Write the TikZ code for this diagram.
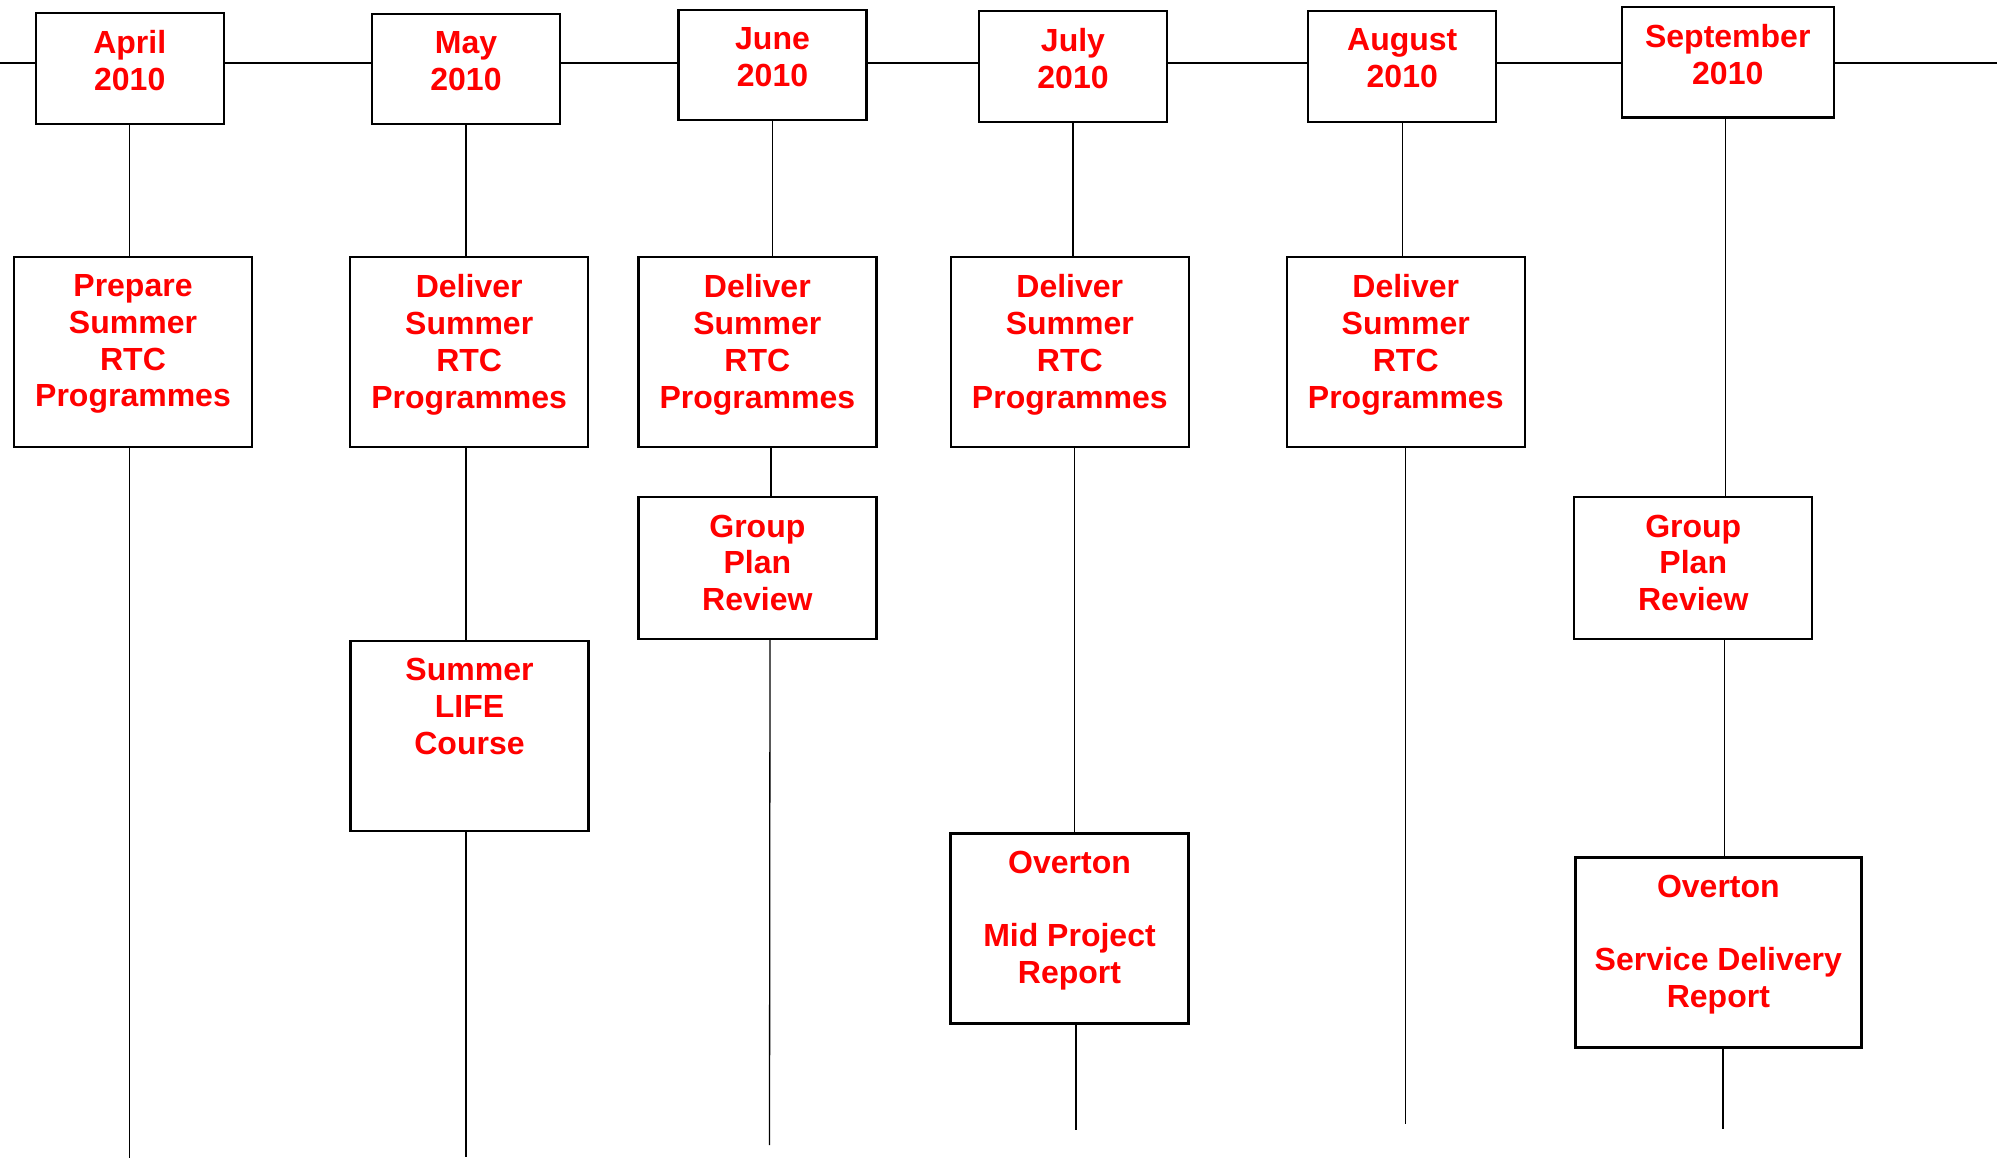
\documentclass[tikz,border=0pt]{standalone}
\usepackage{fontspec}
\setmainfont{Liberation Sans}
\newcommand{\firststrut}{\rule{0pt}{30pt}}
\begin{document}
\begin{tikzpicture}[x=1pt,y=-1pt,
  box/.style={draw=black, line width=2.3pt, fill=white, inner sep=0pt, minimum width=#1},
  mbox/.style={box=188pt, minimum height=110.5pt},
  abox/.style={box=238pt, minimum height=190pt},
  gbox/.style={box=238pt, minimum height=141.5pt},
  txt/.style={anchor=north, yshift=-18.5pt, align=center, text={rgb,255:red,255;green,0;blue,0}, inner sep=0pt,
    font=\bfseries\fontsize{32}{36.7}\selectfont, execute at begin node={\firststrut}},
  tl/.style={line width=2.6pt},
  vl/.style={line width=1.3pt}]
\useasboundingbox (0,0) rectangle (2004,1158);
\coordinate (L) at (0,63);
\coordinate (R) at (1997,63);
\draw[tl] (L) -- (R);
% month boxes
\node[mbox, label={[txt]north:{April\\2010}}] (mApr) at (129.75,68.5) {};
\node[mbox, label={[txt]north:{May\\2010}}] (mMay) at (466,69) {};
\node[mbox, label={[txt]north:{June\\2010}}] (mJun) at (772.5,65) {};
\node[mbox, label={[txt]north:{July\\2010}}] (mJul) at (1073,66.5) {};
\node[mbox, label={[txt]north:{August\\2010}}] (mAug) at (1402.25,66.5) {};
\node[mbox, minimum width=212pt, label={[txt]north:{September\\2010}}] (mSep) at (1727.75,62.25) {};
% activity boxes
\node[abox, label={[txt]north:{Prepare\\Summer\\RTC\\Programmes}}] (aPrep) at (133,352.25) {};
\node[abox, label={[txt]north:{Deliver\\Summer\\RTC\\Programmes}}] (aMay) at (469.2,352.25) {};
\node[abox, label={[txt]north:{Deliver\\Summer\\RTC\\Programmes}}] (aJun) at (757.35,352.25) {};
\node[abox, label={[txt]north:{Deliver\\Summer\\RTC\\Programmes}}] (aJul) at (1069.8,352.25) {};
\node[abox, label={[txt]north:{Deliver\\Summer\\RTC\\Programmes}}] (aAug) at (1405.75,352.25) {};
\node[gbox, label={[txt]north:{Group\\Plan\\Review}}] (gJun) at (757.35,568) {};
\node[gbox, label={[txt]north:{Group\\Plan\\Review}}] (gSep) at (1693.25,568) {};
\node[abox, label={[txt]north:{Summer\\LIFE\\Course}}] (sLife) at (469.5,736) {};
\node[abox, label={[txt]north:{Overton\\[36.7pt]Mid Project\\Report}}] (oMid) at (1069.5,928.5) {};
\node[abox, minimum width=286pt, label={[txt]north:{Overton\\[36.7pt]Service Delivery\\Report}}] (oSvc) at (1718.35,952.35) {};
% free ends
\coordinate (eApr) at (129.75,1158);
\coordinate (eMay) at (466,1157);
\coordinate (eJun) at (769.5,1145);
\coordinate (eJul) at (1076,1130);
\coordinate (eAug) at (1405.75,1124);
\coordinate (eSep) at (1723,1129);
% connectors
\draw[vl] (mApr.south) -- (mApr.south |- aPrep.north);
\draw[vl] (mApr.south |- aPrep.south) -- (eApr);
\draw[vl] (mMay.south) -- (mMay.south |- aMay.north);
\draw[vl] (mMay.south |- aMay.south) -- (mMay.south |- sLife.north);
\draw[vl] (mMay.south |- sLife.south) -- (eMay);
\draw[vl] (mJun.south) -- (mJun.south |- aJun.north);
\draw[vl] ([xshift=-1.5pt]mJun.south |- aJun.south) -- ([xshift=-1.5pt]mJun.south |- gJun.north);
\draw[vl] ([xshift=-2.5pt]mJun.south |- gJun.south) -- (eJun);
\draw[vl] (mJul.south) -- (mJul.south |- aJul.north);
\draw[vl] ([xshift=1.5pt]mJul.south |- aJul.south) -- ([xshift=1.5pt]mJul.south |- oMid.north);
\draw[vl] (eJul |- oMid.south) -- (eJul);
\draw[vl] (mAug.south) -- (mAug.south |- aAug.north);
\draw[vl] (aAug.south) -- (eAug);
\draw[vl] ([xshift=-2pt]mSep.south) -- ([xshift=-2pt]mSep.south |- gSep.north);
\draw[vl] ([xshift=-3.5pt]mSep.south |- gSep.south) -- ([xshift=-3.5pt]mSep.south |- oSvc.north);
\draw[vl] (eSep |- oSvc.south) -- (eSep);
\end{tikzpicture}
\end{document}
